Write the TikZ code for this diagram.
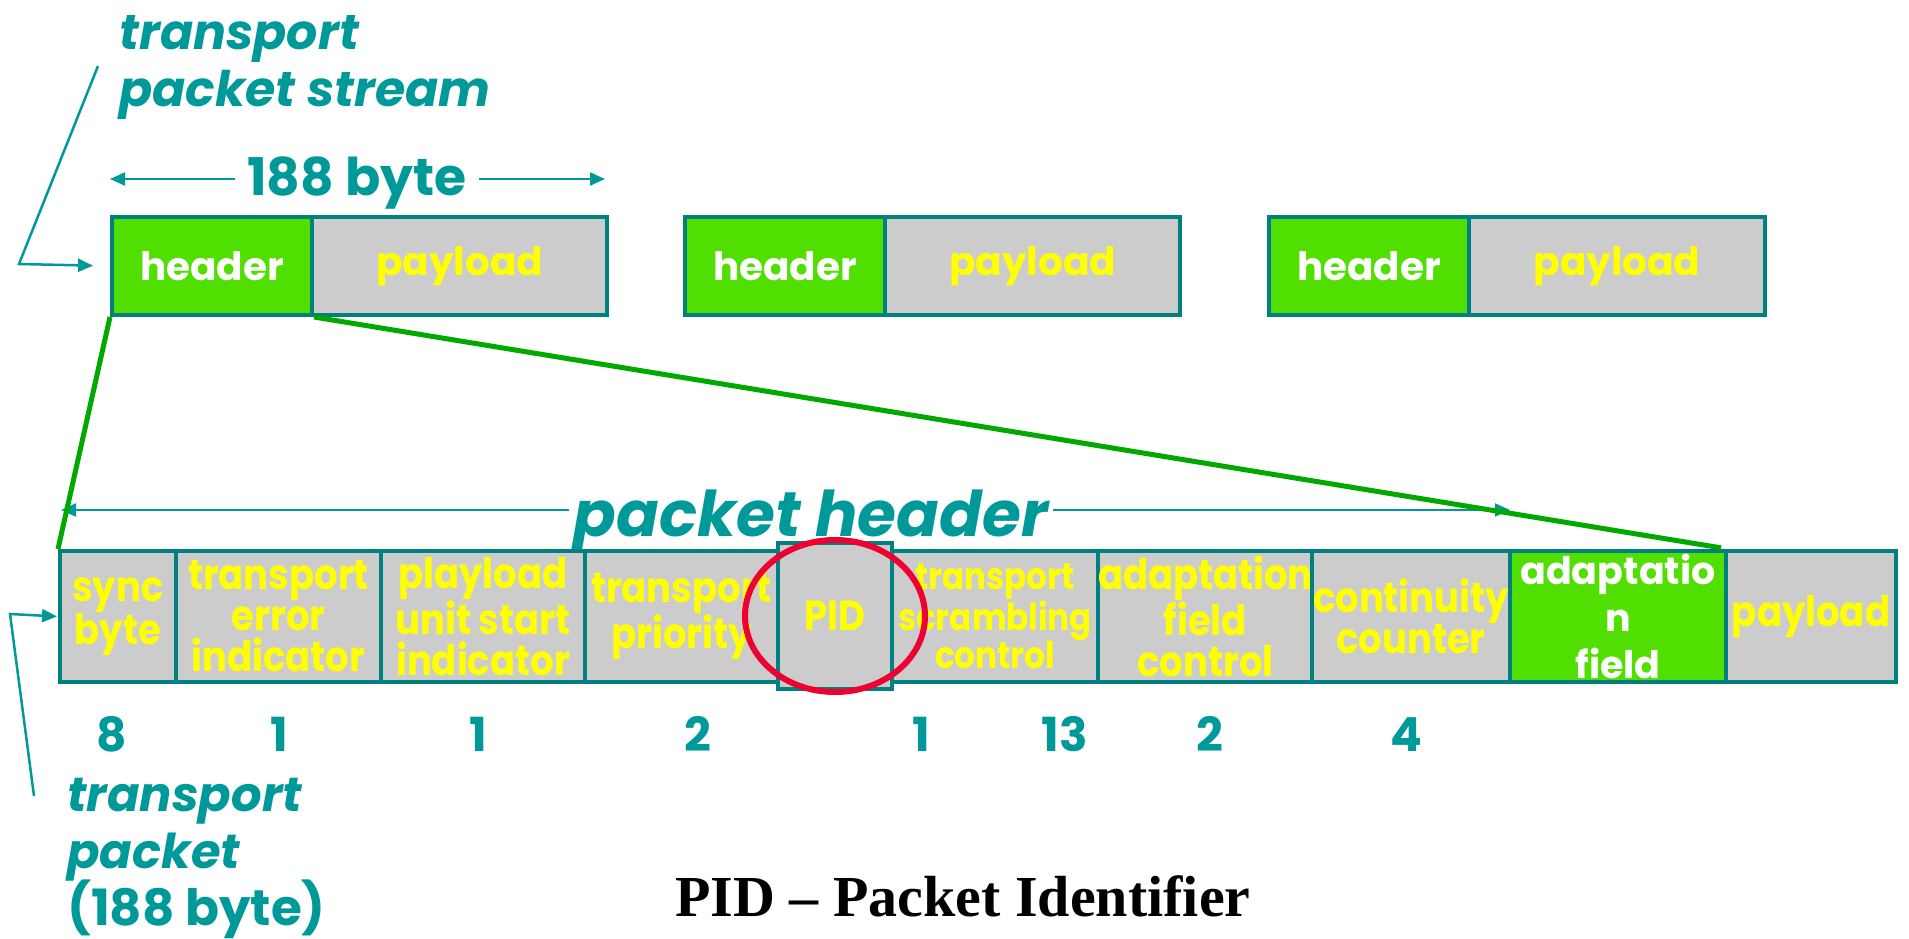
\documentclass[tikz,border=0pt]{standalone}
\usepackage{fontspec}
\usepackage{tikz}
\usetikzlibrary{arrows.meta}
\setmainfont{Poppins}
\newfontfamily\narrowgothic[FakeStretch=0.88]{Poppins}
\newfontfamily\captionserif{Liberation Serif}
\definecolor{StreamTeal}{HTML}{009999}
\definecolor{EdgeTeal}{HTML}{00807F}
\definecolor{HeaderGreen}{HTML}{50DF00}
\definecolor{FieldGray}{HTML}{CCCCCC}
\definecolor{FieldYellow}{HTML}{FFFF00}
\definecolor{LinkGreen}{HTML}{00A800}
\definecolor{RingRed}{HTML}{EE0030}

\tikzset{
  field/.style={draw=EdgeTeal, line width=4pt, fill=FieldGray, text=FieldYellow,
    anchor=north west, inner sep=0pt, align=center, minimum height=131pt,
    font=\narrowgothic\bfseries\fontsize{42}{41}\selectfont},
  greenfield/.style={field, fill=HeaderGreen, text=white},
  topfield/.style={minimum height=98pt, font=\bfseries\fontsize{39}{39}\selectfont},
  tealtext/.style={text=StreamTeal, inner sep=0pt},
  dimline/.style={StreamTeal, line width=2pt,
    {Triangle[length=15pt,width=13pt]}-{Triangle[length=15pt,width=13pt]}},
  leader/.style={StreamTeal, line width=2.5pt, -{Triangle[length=15pt,width=13pt]}},
  linkline/.style={LinkGreen, line width=5pt},
}

\begin{document}
\begin{tikzpicture}[x=1pt,y=-1pt]
  \useasboundingbox (0,0) rectangle (1909,939);
  % stream label
  \node[tealtext, anchor=base west, font=\bfseries\itshape\fontsize{49}{57}\selectfont] (streamA) at (119,50) {transport};
  \node[tealtext, anchor=base west, font=\bfseries\itshape\fontsize{49}{57}\selectfont] (streamB) at (119,107) {packet stream};
  \coordinate (leadTop) at (98,66);
  \coordinate (leadBend) at (19,264);
  % 188 byte span
  \coordinate (spanL) at (110,179);
  \coordinate (spanR) at (605,179);
  \draw[dimline] (spanL) -- (spanR);
  \node[tealtext, fill=white, inner xsep=12pt, inner ysep=2pt, anchor=base, font=\bfseries\fontsize{52}{52}\selectfont] (span) at (357,195) {188 byte};
  % packet stream
  \node[greenfield, topfield, minimum width=200pt] (head1) at (110,215) {header};
  \node[field, topfield, minimum width=295pt] (load1) at (310,215) {payload};
  \node[greenfield, topfield, minimum width=200pt] (head2) at (683,215) {header};
  \node[field, topfield, minimum width=295pt] (load2) at (883,215) {payload};
  \node[greenfield, topfield, minimum width=200pt] (head3) at (1267,215) {header};
  \node[field, topfield, minimum width=296pt] (load3) at (1467,215) {payload};
  \draw[leader, shorten >=17pt] (leadTop) -- (leadBend) -- (head1.west);
  % packet header span
  \coordinate (hdrL) at (61,510);
  \coordinate (hdrR) at (1510,510);
  \draw[dimline] (hdrL) -- (hdrR);
  \node[tealtext, fill=white, inner xsep=5pt, inner ysep=2pt, anchor=base, font=\bfseries\itshape\fontsize{63}{63}\selectfont] (hdrtext) at (811,536) {packet header};
  % header fields
  \node[field, minimum width=116pt] (sync) at (58,549) {sync\\byte};
  \node[field, minimum width=205pt] (tei) at (174,549) {transport\\error\\indicator};
  \node[field, minimum width=204pt] (pusi) at (379,549) {playload\\unit start\\indicator};
  \node[field, minimum width=193pt] (prio) at (583,549) {transport\\priority};
  \node[field, minimum width=206pt, font=\narrowgothic\bfseries\fontsize{37}{38}\selectfont] (scram) at (890,549) {transport\\scrambling\\control};
  \node[field, minimum width=214pt] (afc) at (1096,549) {adaptation\\field\\control};
  \node[field, minimum width=198pt] (cc) at (1310,549) {continuity\\counter};
  \node[greenfield, minimum width=216pt, font=\bfseries\fontsize{38}{47}\selectfont] (adapt) at (1508,549) {adaptatio\\n\\field};
  \node[field, minimum width=170pt] (load) at (1724,549) {payload};
  \node[field, minimum width=114pt, minimum height=146pt] (pid) at (776,541) {PID};
  \draw[RingRed, line width=6pt] (pid.center) ellipse [x radius=90, y radius=76];
  \draw[linkline] (head1.south west) -- (sync.north west);
  \draw[linkline, shorten >=7pt] (head1.south east) -- (adapt.north east);
  % bit counts
  \foreach \bits/\x in {8/112, 1/279, 1/478, 2/698, 1/921, 13/1065, 2/1210, 4/1406} {
    \node[tealtext, anchor=base, font=\bfseries\fontsize{47}{47}\selectfont] (bits\x) at (\x,751) {\bits};
  }
  % packet label
  \node[tealtext, anchor=base west, font=\bfseries\itshape\fontsize{48}{57}\selectfont] (pktA) at (67,811) {transport};
  \node[tealtext, anchor=base west, font=\bfseries\itshape\fontsize{48}{57}\selectfont] (pktB) at (67,868) {packet};
  \node[tealtext, anchor=base west, font=\bfseries\fontsize{50}{57}\selectfont] (pktC) at (67,925) {(188 byte)};
  \coordinate (pktTail) at (34,796);
  \coordinate (pktBend) at (10,614);
  \draw[leader, shorten >=1pt] (pktTail) -- (pktBend) -- (sync.west);
  \node[anchor=base, font=\captionserif\bfseries\fontsize{58}{58}\selectfont] (caption) at (963,916) {PID – Packet Identifier};
\end{tikzpicture}
\end{document}
